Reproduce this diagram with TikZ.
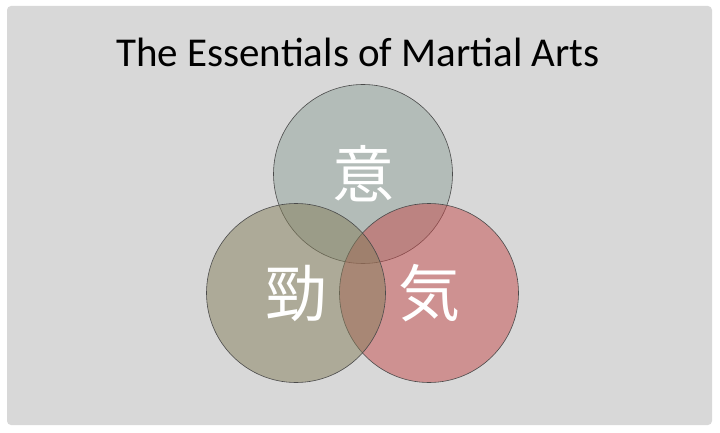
\documentclass[tikz,border=0pt]{standalone}
\usepackage{fontspec}
\setmainfont{Carlito}
\newfontfamily\cjk{Noto Sans CJK JP}
\usetikzlibrary{positioning}
\definecolor{slidebg}{HTML}{D8D8D8}
\definecolor{yicol}{HTML}{90A29A}
\definecolor{qicol}{HTML}{C64C4C}
\definecolor{jincol}{HTML}{847E5A}
\definecolor{rimcol}{HTML}{4A4A4A}

\begin{document}
\begin{tikzpicture}[x=1pt, y=-1pt,
    venn/.style = {circle, draw=rimcol, line width=0.6pt, fill opacity=0.5, minimum size=179pt, inner sep=0pt},
    glyph/.style = {text=white, font=\cjk\fontsize{62}{62}\selectfont, inner sep=0pt}]
        \useasboundingbox (0,0) rectangle (720,433);
        \fill[slidebg, rounded corners=4pt] (7,6) rectangle (712,425);
        \node[anchor=base, font=\fontsize{41}{41}\selectfont] (title) at (358,67) {The Essentials of Martial Arts};
        \node[venn, fill=yicol] (yi) at (363,174) {};
        \node[venn, fill=qicol] (qi) at (429,293) {};
        \node[venn, fill=jincol] (jin) at (296,293) {};
        \node[glyph] (yitext) at (yi) {意};
        \node[glyph] (qitext) at (qi) {気};
        \node[glyph] (jintext) at (jin) {勁};
    \end{tikzpicture}
\end{document}
